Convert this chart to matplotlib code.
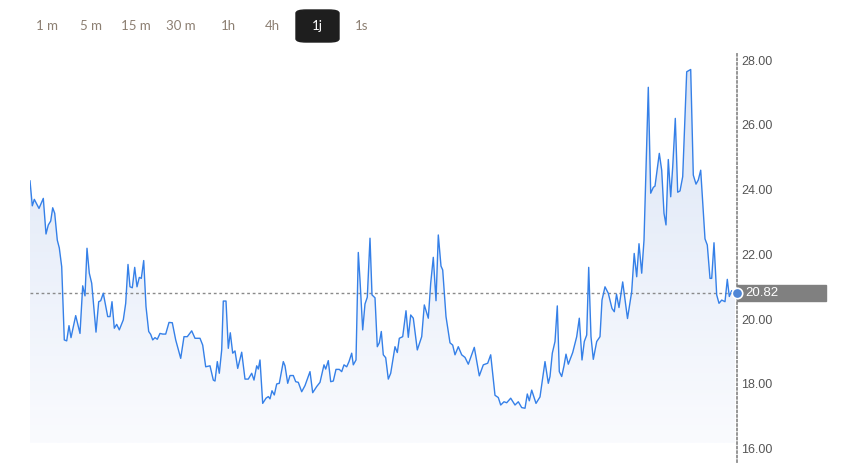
import matplotlib.pyplot as plt
import numpy as np
from matplotlib.colors import LinearSegmentedColormap
from matplotlib.patches import FancyBboxPatch, Rectangle

# price series (x = horizontal position, v = price)
x = [30, 32.3, 34.3, 39, 43.3, 46, 48.3, 50.7, 52.7, 54.7, 57.3, 59.3, 61.7, 64.3, 66.7,
     69, 71, 75.7, 80, 82.7, 85, 87, 89.3, 91.7, 96, 98.7, 100.7, 103.3, 107.7, 110,
     112, 114.3, 116.7, 119.3, 123.3, 125.7, 128, 130, 132.3, 134.7, 137, 139.3, 141.3, 143.7, 146,
     148.7, 150.7, 152.7, 155, 157.3, 160, 162.7, 165.7, 169, 172.3, 175.7, 180.7, 184, 187.3,
     191.7, 195, 200, 202.7, 205.7, 210, 213.3, 215, 217.3, 219.3, 221.7, 223.3, 226, 228.3, 230.3,
     232.7, 235, 237.7, 241.7, 245, 248.3, 251.7, 254, 256.7, 258.3, 260, 262.7, 266, 268.3, 270,
     272, 274.3, 276.7, 279.3, 283.3, 285, 287.7, 290, 293.3, 295.7, 298.3, 301.7, 305, 310, 312.7,
     316.7, 320, 324, 325.7, 328.3, 330.7, 333.3, 336, 339.3, 341.7, 344, 346.7, 349, 351.7, 353.3,
     356, 358.3, 360, 362.7, 365, 367.3, 370, 372, 375, 377.3, 379.3, 381.3, 383.3, 385.7, 388.3,
     390.7, 395, 397.3, 399.3, 402.7, 406, 408.3, 410.7, 413.3, 417.3, 421.7, 424.3, 428.3, 430.7, 433.3,
     436, 438.3, 441, 442.7, 446, 450, 452.7, 455, 458.3, 461.7, 465, 468.3, 474.3, 479.3, 483.3,
     487.7, 490.7, 495, 498.3, 500.7, 504, 506.7, 510.7, 515, 518.3, 521.7, 525, 527.3, 529.3, 531.7,
     536, 540, 545, 548.3, 550, 552.3, 555, 557.3, 559.3, 561.7, 564, 566, 568.3, 572.7, 576.7,
     579.3, 582, 584.3, 586.7, 588.7, 591, 593.3, 596.7, 600, 602, 605, 608.3, 612, 614.3, 616.5,
     619, 622.7, 627.5, 631.7, 634.2, 636.7, 639, 641.7, 644, 648.3, 650.7, 653.3, 655, 659.3, 661.7,
     664, 666, 668.3, 670.7, 672.7, 675.3, 677.7, 680, 682.7, 686.7, 690.7, 693.3, 696, 698.3, 700.7,
     705, 707.3, 710, 711.7, 714, 716.7, 719, 721.7, 725, 727.3, 729.3, 731.7, 734, 735]
v = [24.27, 23.50, 23.70, 23.42, 23.73, 22.63, 22.91, 23.03, 23.44, 23.27, 22.44, 22.20, 21.62, 19.36, 19.33,
     19.80, 19.43, 20.11, 19.56, 21.03, 20.72, 22.19, 21.42, 21.11, 19.60, 20.54, 20.57, 20.80, 20.08, 20.08,
     20.54, 19.72, 19.84, 19.67, 19.98, 20.49, 21.69, 21.00, 20.97, 21.60, 21.00, 21.29, 21.26, 21.81, 20.39,
     19.62, 19.53, 19.36, 19.43, 19.38, 19.56, 19.54, 19.54, 19.90, 19.89, 19.36, 18.79, 19.46, 19.46,
     19.64, 19.41, 19.41, 19.20, 18.53, 18.56, 18.12, 18.09, 18.69, 18.33, 19.05, 20.56, 20.56, 19.10, 19.58,
     18.95, 19.02, 18.48, 18.98, 18.15, 18.15, 18.33, 18.12, 18.56, 18.46, 18.74, 17.40, 17.56, 17.61, 17.54,
     17.79, 17.66, 18.00, 18.02, 18.69, 18.56, 18.02, 18.26, 18.26, 18.07, 18.05, 17.76, 17.95, 18.38, 17.73,
     17.92, 18.05, 18.59, 18.46, 18.72, 18.07, 18.09, 18.45, 18.45, 18.38, 18.59, 18.53, 18.69, 18.95, 18.59,
     18.74, 22.06, 21.21, 19.67, 20.47, 20.68, 22.50, 20.75, 20.66, 19.15, 19.27, 19.62, 18.90, 18.81, 18.15,
     18.33, 19.15, 18.97, 19.41, 19.46, 20.26, 19.44, 20.13, 20.03, 19.05, 19.46, 20.44, 20.03, 21.11, 21.91,
     20.57, 22.60, 21.64, 21.52, 20.08, 19.27, 19.20, 18.90, 19.15, 18.90, 18.82, 18.61, 19.13, 18.25, 18.59,
     18.64, 18.90, 17.65, 17.58, 17.35, 17.45, 17.42, 17.56, 17.35, 17.45, 17.27, 17.25, 17.69, 17.48, 17.81,
     17.40, 17.60, 18.69, 18.02, 18.23, 18.95, 19.31, 20.41, 18.38, 18.23, 18.56, 18.92, 18.61, 18.97, 19.46,
     20.03, 18.74, 19.31, 19.51, 21.60, 19.46, 18.76, 19.31, 19.46, 20.59, 21.00, 20.80, 20.33, 20.23, 20.77,
     20.36, 21.15, 20.02, 20.85, 22.03, 21.31, 22.33, 21.42, 22.44, 27.16, 23.89, 24.07, 24.11, 25.12, 24.60,
     23.27, 22.91, 24.93, 23.78, 24.70, 26.20, 23.92, 23.96, 24.40, 27.64, 27.71, 24.45, 24.17, 24.30, 24.60,
     22.48, 22.29, 21.26, 21.26, 22.36, 20.75, 20.49, 20.59, 20.54, 21.23, 20.70, 20.88, 20.80, 20.82]

last_price = 20.82
y_ticks = [16, 18, 20, 22, 24, 26, 28]
intervals = ["1 m", "5 m", "15 m", "30 m", "1h", "4h", "1j", "1s"]
selected = "1j"

W, H = 841, 473
fig = plt.figure(figsize=(W / 100, H / 100), dpi=100)

def fx(px):
    return px / W

def fy(py):
    return 1 - py / H

# plot area: x 30..737 px, y 52..462 px
ax = fig.add_axes([fx(30), fy(462), fx(737) - fx(30), fy(52) - fy(462)])
ax.set_xlim(30, 737)
ax.set_ylim(15.59, 28.25)

line_col = "#3580e8"
fill_bottom = 16.18

# gradient fill under the line
poly = ax.fill_between(x, v, fill_bottom, color="none", lw=0)
cmap = LinearSegmentedColormap.from_list("g", ["#fafbfe", "#dbe5f6"])
grad = np.linspace(0, 1, 256).reshape(-1, 1)
im = ax.imshow(grad, extent=[30, 737, fill_bottom, 28.0], aspect="auto",
               cmap=cmap, origin="lower", zorder=1)
im.set_clip_path(poly.get_paths()[0], transform=ax.transData)

ax.plot(x, v, color=line_col, lw=1.0, zorder=3)
ax.axhline(last_price, color="#8a8a8a", lw=1, ls=(0, (2, 2)), zorder=2)

# axes styling
for s in ["left", "top", "bottom"]:
    ax.spines[s].set_visible(False)
ax.spines["right"].set_color("#8e8e8e")
ax.spines["right"].set_linestyle((0, (1, 1.5)))
ax.spines["right"].set_linewidth(1.3)
ax.set_xticks([])
ax.yaxis.tick_right()
ax.set_yticks(y_ticks)
ax.set_yticklabels([f"{t:.2f}" for t in y_ticks], fontsize=9, color="#555555",
                   fontfamily="Liberation Sans")
ax.tick_params(axis="y", length=0, pad=3)

# last price label box and marker
ax.add_patch(Rectangle((fx(737), fy(301)), fx(826) - fx(737), fy(285) - fy(301),
                       transform=fig.transFigure, color="#808080", zorder=5, clip_on=False))
ax.text(fx(745), fy(293), f"{last_price:.2f}", color="white", fontsize=9.5,
        fontfamily="Liberation Sans", va="center", ha="left", zorder=7,
        transform=fig.transFigure, clip_on=False)
ax.plot([737], [last_price], "o", ms=7.5, color="#4f86d6", mec="white", mew=1.2,
        clip_on=False, zorder=8)

# interval buttons
btn_x = [47, 91, 136, 181, 228, 272, 317, 362]
for lab, bx in zip(intervals, btn_x):
    if lab == selected:
        fig.patches.append(FancyBboxPatch((fx(296), fy(42)), fx(339) - fx(296), fy(10) - fy(42),
                                          boxstyle="round,pad=0,rounding_size=0.012",
                                          transform=fig.transFigure, color="#1e1e1e",
                                          mutation_aspect=H / W))
        col = "white"
    else:
        col = "#8c7f72"
    fig.text(fx(bx), fy(26), lab, color=col, fontsize=9.5, ha="center", va="center",
             fontfamily="Lato")

fig.savefig("out.png", dpi=100)
